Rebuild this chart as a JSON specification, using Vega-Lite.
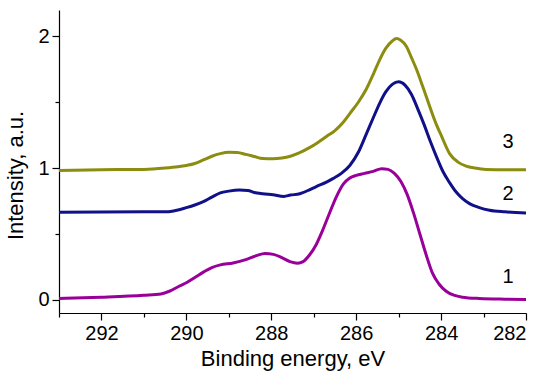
{
  "$schema": "https://vega.github.io/schema/vega-lite/v6.json",
  "autosize": "none",
  "width": 467,
  "height": 303,
  "padding": {"left": 59, "top": 10, "right": 24, "bottom": 61},
  "background": "white",
  "config": {
    "view": {"stroke": null},
    "font": "Liberation Sans",
    "axis": {
      "grid": false,
      "domainColor": "black",
      "domainWidth": 1.2,
      "tickColor": "black",
      "tickWidth": 1.2,
      "labelColor": "black",
      "titleColor": "black",
      "labelFont": "Liberation Sans",
      "titleFont": "Liberation Sans",
      "labelFontSize": 20,
      "titleFontSize": 22,
      "titleFontWeight": "normal"
    }
  },
  "datasets": {
    "curves": [
      {"x": 293.0, "y": 0.01, "s": "1"},
      {"x": 292.0, "y": 0.02, "s": "1"},
      {"x": 291.0, "y": 0.035, "s": "1"},
      {"x": 290.6, "y": 0.045, "s": "1"},
      {"x": 290.4, "y": 0.065, "s": "1"},
      {"x": 290.15, "y": 0.107, "s": "1"},
      {"x": 290.0, "y": 0.13, "s": "1"},
      {"x": 289.8, "y": 0.17, "s": "1"},
      {"x": 289.6, "y": 0.21, "s": "1"},
      {"x": 289.4, "y": 0.245, "s": "1"},
      {"x": 289.2, "y": 0.265, "s": "1"},
      {"x": 288.9, "y": 0.28, "s": "1"},
      {"x": 288.6, "y": 0.305, "s": "1"},
      {"x": 288.35, "y": 0.335, "s": "1"},
      {"x": 288.15, "y": 0.352, "s": "1"},
      {"x": 287.95, "y": 0.345, "s": "1"},
      {"x": 287.75, "y": 0.32, "s": "1"},
      {"x": 287.56, "y": 0.29, "s": "1"},
      {"x": 287.38, "y": 0.278, "s": "1"},
      {"x": 287.25, "y": 0.29, "s": "1"},
      {"x": 287.1, "y": 0.34, "s": "1"},
      {"x": 286.94, "y": 0.42, "s": "1"},
      {"x": 286.8, "y": 0.52, "s": "1"},
      {"x": 286.65, "y": 0.64, "s": "1"},
      {"x": 286.47, "y": 0.78, "s": "1"},
      {"x": 286.3, "y": 0.88, "s": "1"},
      {"x": 286.15, "y": 0.925, "s": "1"},
      {"x": 286.0, "y": 0.945, "s": "1"},
      {"x": 285.8, "y": 0.96, "s": "1"},
      {"x": 285.6, "y": 0.975, "s": "1"},
      {"x": 285.4, "y": 0.995, "s": "1"},
      {"x": 285.25, "y": 0.99, "s": "1"},
      {"x": 285.1, "y": 0.96, "s": "1"},
      {"x": 284.95, "y": 0.9, "s": "1"},
      {"x": 284.8, "y": 0.8, "s": "1"},
      {"x": 284.65, "y": 0.66, "s": "1"},
      {"x": 284.5, "y": 0.5, "s": "1"},
      {"x": 284.35, "y": 0.34, "s": "1"},
      {"x": 284.2, "y": 0.2, "s": "1"},
      {"x": 284.05, "y": 0.12, "s": "1"},
      {"x": 283.88, "y": 0.065, "s": "1"},
      {"x": 283.7, "y": 0.035, "s": "1"},
      {"x": 283.5, "y": 0.02, "s": "1"},
      {"x": 283.1, "y": 0.01, "s": "1"},
      {"x": 282.5, "y": 0.005, "s": "1"},
      {"x": 282.0, "y": 0.003, "s": "1"},

      {"x": 293.0, "y": 0.665, "s": "2"},
      {"x": 291.0, "y": 0.668, "s": "2"},
      {"x": 290.5, "y": 0.668, "s": "2"},
      {"x": 290.3, "y": 0.675, "s": "2"},
      {"x": 290.0, "y": 0.7, "s": "2"},
      {"x": 289.8, "y": 0.72, "s": "2"},
      {"x": 289.6, "y": 0.745, "s": "2"},
      {"x": 289.4, "y": 0.78, "s": "2"},
      {"x": 289.2, "y": 0.812, "s": "2"},
      {"x": 289.0, "y": 0.825, "s": "2"},
      {"x": 288.75, "y": 0.833, "s": "2"},
      {"x": 288.55, "y": 0.83, "s": "2"},
      {"x": 288.4, "y": 0.815, "s": "2"},
      {"x": 288.2, "y": 0.805, "s": "2"},
      {"x": 287.96, "y": 0.797, "s": "2"},
      {"x": 287.7, "y": 0.785, "s": "2"},
      {"x": 287.55, "y": 0.795, "s": "2"},
      {"x": 287.33, "y": 0.805, "s": "2"},
      {"x": 287.1, "y": 0.835, "s": "2"},
      {"x": 286.94, "y": 0.86, "s": "2"},
      {"x": 286.7, "y": 0.893, "s": "2"},
      {"x": 286.55, "y": 0.92, "s": "2"},
      {"x": 286.35, "y": 0.96, "s": "2"},
      {"x": 286.15, "y": 1.02, "s": "2"},
      {"x": 285.95, "y": 1.12, "s": "2"},
      {"x": 285.76, "y": 1.26, "s": "2"},
      {"x": 285.6, "y": 1.38, "s": "2"},
      {"x": 285.45, "y": 1.49, "s": "2"},
      {"x": 285.3, "y": 1.58, "s": "2"},
      {"x": 285.15, "y": 1.635, "s": "2"},
      {"x": 285.0, "y": 1.655, "s": "2"},
      {"x": 284.85, "y": 1.63, "s": "2"},
      {"x": 284.7, "y": 1.56, "s": "2"},
      {"x": 284.55, "y": 1.45, "s": "2"},
      {"x": 284.4, "y": 1.33, "s": "2"},
      {"x": 284.25, "y": 1.2, "s": "2"},
      {"x": 284.1, "y": 1.08, "s": "2"},
      {"x": 283.95, "y": 0.97, "s": "2"},
      {"x": 283.8, "y": 0.89, "s": "2"},
      {"x": 283.65, "y": 0.82, "s": "2"},
      {"x": 283.5, "y": 0.77, "s": "2"},
      {"x": 283.33, "y": 0.73, "s": "2"},
      {"x": 283.1, "y": 0.7, "s": "2"},
      {"x": 282.86, "y": 0.68, "s": "2"},
      {"x": 282.5, "y": 0.668, "s": "2"},
      {"x": 282.0, "y": 0.66, "s": "2"},

      {"x": 293.0, "y": 0.982, "s": "3"},
      {"x": 292.0, "y": 0.988, "s": "3"},
      {"x": 291.0, "y": 0.99, "s": "3"},
      {"x": 290.5, "y": 1.0, "s": "3"},
      {"x": 290.2, "y": 1.01, "s": "3"},
      {"x": 290.0, "y": 1.02, "s": "3"},
      {"x": 289.8, "y": 1.035, "s": "3"},
      {"x": 289.6, "y": 1.062, "s": "3"},
      {"x": 289.4, "y": 1.09, "s": "3"},
      {"x": 289.2, "y": 1.11, "s": "3"},
      {"x": 289.0, "y": 1.12, "s": "3"},
      {"x": 288.8, "y": 1.118, "s": "3"},
      {"x": 288.6, "y": 1.104, "s": "3"},
      {"x": 288.4, "y": 1.088, "s": "3"},
      {"x": 288.2, "y": 1.072, "s": "3"},
      {"x": 287.96, "y": 1.07, "s": "3"},
      {"x": 287.75, "y": 1.076, "s": "3"},
      {"x": 287.55, "y": 1.09, "s": "3"},
      {"x": 287.33, "y": 1.117, "s": "3"},
      {"x": 287.1, "y": 1.155, "s": "3"},
      {"x": 286.9, "y": 1.195, "s": "3"},
      {"x": 286.7, "y": 1.24, "s": "3"},
      {"x": 286.5, "y": 1.285, "s": "3"},
      {"x": 286.3, "y": 1.35, "s": "3"},
      {"x": 286.15, "y": 1.414, "s": "3"},
      {"x": 285.95, "y": 1.5, "s": "3"},
      {"x": 285.76, "y": 1.6, "s": "3"},
      {"x": 285.6, "y": 1.71, "s": "3"},
      {"x": 285.45, "y": 1.82, "s": "3"},
      {"x": 285.3, "y": 1.91, "s": "3"},
      {"x": 285.15, "y": 1.965, "s": "3"},
      {"x": 285.05, "y": 1.983, "s": "3"},
      {"x": 284.95, "y": 1.97, "s": "3"},
      {"x": 284.82, "y": 1.925, "s": "3"},
      {"x": 284.7, "y": 1.84, "s": "3"},
      {"x": 284.58, "y": 1.75, "s": "3"},
      {"x": 284.43, "y": 1.617, "s": "3"},
      {"x": 284.27, "y": 1.47, "s": "3"},
      {"x": 284.11, "y": 1.33, "s": "3"},
      {"x": 284.0, "y": 1.25, "s": "3"},
      {"x": 283.8, "y": 1.11, "s": "3"},
      {"x": 283.6, "y": 1.045, "s": "3"},
      {"x": 283.41, "y": 1.015, "s": "3"},
      {"x": 283.2, "y": 1.0, "s": "3"},
      {"x": 282.94, "y": 0.99, "s": "3"},
      {"x": 282.5, "y": 0.988, "s": "3"},
      {"x": 282.0, "y": 0.988, "s": "3"}
    ],
    "labels": [
      {"x": 282.42, "y": 1.2, "t": "3"},
      {"x": 282.42, "y": 0.805, "t": "2"},
      {"x": 282.42, "y": 0.177, "t": "1"}
    ]
  },
  "layer": [
    {
      "data": {"name": "curves"},
      "mark": {"type": "line", "strokeWidth": 3, "interpolate": "monotone"},
      "encoding": {
        "x": {
          "field": "x", "type": "quantitative",
          "scale": {"domain": [282, 293], "reverse": true, "nice": false, "zero": false},
          "axis": {
            "title": "Binding energy, eV",
            "values": [282, 282.5, 283, 283.5, 284, 284.5, 285, 285.5, 286, 286.5, 287, 287.5, 288, 288.5, 289, 289.5, 290, 290.5, 291, 291.5, 292, 292.5, 293],
            "labelExpr": "datum.value % 2 === 0 ? format(datum.value, 'd') : ''",
            "tickSize": {"condition": {"test": "datum.value % 2 === 0", "value": 7}, "value": 4},
            "labelPadding": 3,
            "titlePadding": 5
          }
        },
        "y": {
          "field": "y", "type": "quantitative",
          "scale": {"domain": [-0.1, 2.2], "nice": false, "zero": false},
          "axis": {
            "title": "Intensity, a.u.",
            "values": [0, 0.25, 0.5, 0.75, 1, 1.25, 1.5, 1.75, 2],
            "labelExpr": "datum.value % 1 === 0 ? format(datum.value, 'd') : ''",
            "tickSize": {"condition": {"test": "datum.value % 1 === 0", "value": 7}, "value": 4},
            "labelPadding": 3,
            "titlePadding": 10,
            "titleY": 165
          }
        },
        "color": {
          "field": "s", "type": "nominal",
          "scale": {"domain": ["1", "2", "3"], "range": ["#990099", "#101088", "#8C8C10"]},
          "legend": null
        }
      }
    },
    {
      "data": {"name": "labels"},
      "mark": {"type": "text", "fontSize": 20, "font": "Liberation Sans", "color": "black", "align": "center", "baseline": "middle"},
      "encoding": {
        "x": {"field": "x", "type": "quantitative"},
        "y": {"field": "y", "type": "quantitative"},
        "text": {"field": "t"}
      }
    }
  ]
}
